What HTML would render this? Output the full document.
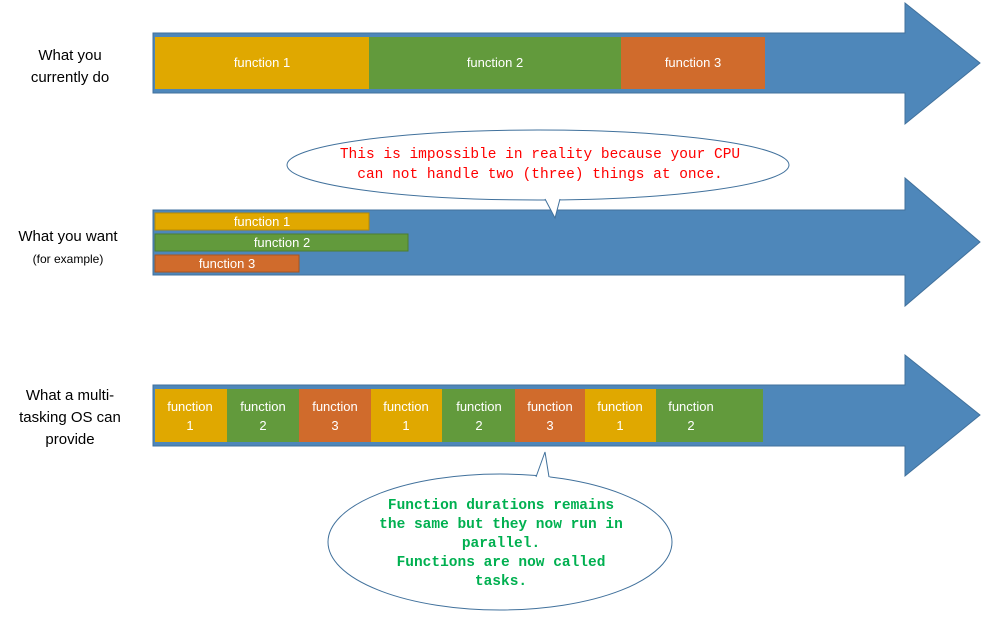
<!DOCTYPE html>
<html><head><meta charset="utf-8"><style>body{margin:0;background:#fff}svg{display:block}</style></head><body>
<svg width="987" height="620" xmlns="http://www.w3.org/2000/svg" font-family="Liberation Sans, sans-serif">
<!-- arrows -->
<g fill="#4e87ba" stroke="#41719c" stroke-width="1">
<polygon points="153,33 905,33 905,3 980,63 905,124 905,93 153,93"/>
<polygon points="153,210 905,210 905,178 980,242 905,306 905,275 153,275"/>
<polygon points="153,385 905,385 905,355 980,415 905,476 905,446 153,446"/>
</g>
<!-- row1 -->
<rect x="155" y="37" width="214" height="52" fill="#e0a800"/>
<rect x="369" y="37" width="252" height="52" fill="#629a3c"/>
<rect x="621" y="37" width="144" height="52" fill="#d06b2c"/>
<g fill="#fff" font-size="13" text-anchor="middle">
<text x="262" y="67">function 1</text><text x="495" y="67">function 2</text><text x="693" y="67">function 3</text>
</g>
<!-- row2 -->
<rect x="155" y="213" width="214" height="17" fill="#e0a800" stroke="#b88a00"/>
<rect x="155" y="234" width="253" height="17" fill="#629a3c" stroke="#4e7d2f"/>
<rect x="155" y="255" width="144" height="17" fill="#d06b2c" stroke="#a9551f"/>
<g fill="#fff" font-size="13" text-anchor="middle">
<text x="262" y="226">function 1</text><text x="282" y="247">function 2</text><text x="227" y="268">function 3</text>
</g>
<!-- row3 -->
<rect x="155" y="389" width="72" height="53" fill="#e0a800"/>
<rect x="227" y="389" width="72" height="53" fill="#629a3c"/>
<rect x="299" y="389" width="72" height="53" fill="#d06b2c"/>
<rect x="371" y="389" width="71" height="53" fill="#e0a800"/>
<rect x="442" y="389" width="73" height="53" fill="#629a3c"/>
<rect x="515" y="389" width="70" height="53" fill="#d06b2c"/>
<rect x="585" y="389" width="71" height="53" fill="#e0a800"/>
<rect x="656" y="389" width="107" height="53" fill="#629a3c"/>
<g fill="#fff" font-size="13" text-anchor="middle">
<text x="190" y="411">function</text><text x="190" y="430">1</text>
<text x="263" y="411">function</text><text x="263" y="430">2</text>
<text x="335" y="411">function</text><text x="335" y="430">3</text>
<text x="406" y="411">function</text><text x="406" y="430">1</text>
<text x="479" y="411">function</text><text x="479" y="430">2</text>
<text x="550" y="411">function</text><text x="550" y="430">3</text>
<text x="620" y="411">function</text><text x="620" y="430">1</text>
<text x="691" y="411">function</text><text x="691" y="430">2</text>
</g>
<!-- left labels -->
<g fill="#000" font-size="15" text-anchor="middle">
<text x="70" y="60">What you</text><text x="70" y="82">currently do</text>
<text x="68" y="241">What you want</text>
<text x="70" y="400">What a multi-</text><text x="70" y="422">tasking OS can</text><text x="70" y="444">provide</text>
</g>
<text x="68" y="263" font-size="12" text-anchor="middle">(for example)</text>
<!-- callout 1 -->
<ellipse cx="538" cy="165" rx="251" ry="35" fill="#fff" stroke="#41719c"/>
<polygon points="544,196 561,196 555,218" fill="#fff"/>
<polyline points="545,199 555,218 560,199" fill="none" stroke="#41719c"/>
<g fill="#ff0000" font-family="Liberation Mono, monospace" font-size="14.5" text-anchor="middle">
<text x="540" y="158">This is impossible in reality because your CPU</text>
<text x="540" y="178">can not handle two (three) things at once.</text>
</g>
<!-- callout 2 -->
<ellipse cx="500" cy="542" rx="172" ry="68" fill="#fff" stroke="#41719c"/>
<polygon points="535,480 550,480 545,452" fill="#fff"/>
<polyline points="536,477 545,452 549,477" fill="none" stroke="#41719c"/>
<g fill="#00b050" font-family="Liberation Mono, monospace" font-size="14.5" font-weight="bold" text-anchor="middle">
<text x="501" y="509">Function durations remains</text>
<text x="501" y="528">the same but they now run in</text>
<text x="501" y="547">parallel.</text>
<text x="501" y="566">Functions are now called</text>
<text x="501" y="585">tasks.</text>
</g>
</svg>
</body></html>
